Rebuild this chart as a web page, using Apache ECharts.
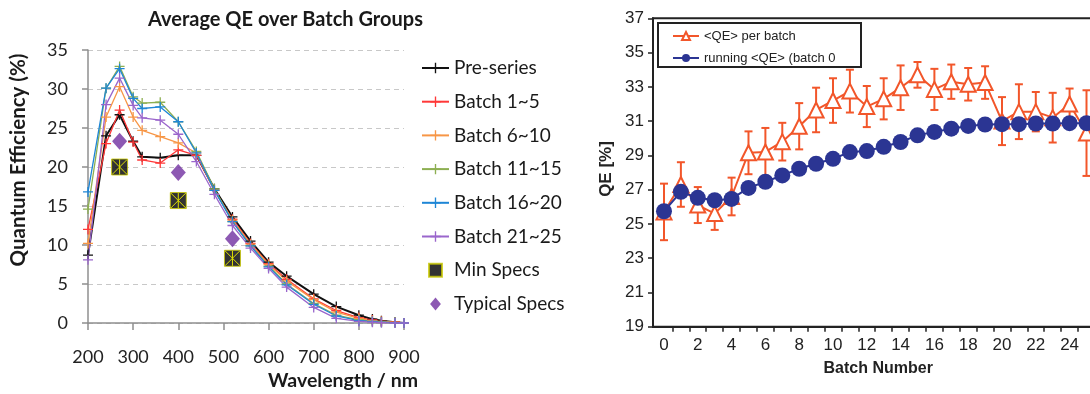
<!DOCTYPE html>
<html>
<head>
<meta charset="utf-8">
<script src="https://cdn.jsdelivr.net/npm/echarts@6/dist/echarts.min.js"></script>
<style>
  html, body { margin: 0; padding: 0; background: #fff; }
  #chart { width: 1090px; height: 394px; }
</style>
</head>
<body>
<div id="chart"></div>
<script>
// ---- Left panel: average QE versus wavelength for each batch group ----
const wavelengths = [200, 240, 270, 300, 320, 360, 400, 440, 480, 520, 560, 600, 640, 700, 750, 800, 830, 850, 880, 900];
const preSeries  = [8.7, 24.0, 26.7, 23.3, 21.3, 21.2, 21.5, 21.5, 17.2, 13.6, 10.5, 7.8, 6.0, 3.7, 2.1, 1.0, 0.5, 0.3, 0.1, 0];
const batch1to5  = [12.0, 23.0, 27.3, 23.2, 20.9, 20.5, 22.2, 21.5, 17.0, 13.3, 10.2, 7.6, 5.6, 3.1, 1.6, 0.7, 0.4, 0.2, 0.1, 0];
const batch6to10 = [10.2, 26.4, 30.3, 26.4, 24.7, 23.9, 23.1, 21.8, 17.0, 13.2, 10.1, 7.5, 5.4, 3.0, 1.4, 0.6, 0.3, 0.2, 0.1, 0];
const batch11to15 = [14.6, 30.1, 32.9, 29.0, 28.2, 28.3, 25.8, 22.0, 17.2, 13.0, 9.9, 7.3, 5.0, 2.5, 1.0, 0.4, 0.2, 0.1, 0.05, 0];
const batch16to20 = [16.8, 30.1, 32.6, 28.8, 27.5, 27.7, 25.8, 21.8, 17.0, 13.0, 9.9, 7.2, 4.9, 2.4, 0.9, 0.3, 0.2, 0.1, 0.05, 0];
const batch21to25 = [8.1, 28.0, 31.4, 27.9, 26.3, 26.0, 24.2, 20.7, 16.5, 12.5, 9.6, 7.0, 4.6, 2.0, 0.6, 0.2, 0.1, 0.05, 0, 0];
const specWavelengths = [270, 400, 520];
const minSpecs = [20.0, 15.7, 8.3];
const typicalSpecs = [23.3, 19.3, 10.8];

// ---- Right panel: QE per production batch ----
const batchNumbers = [0, 1, 2, 3, 4, 5, 6, 7, 8, 9, 10, 11, 12, 13, 14, 15, 16, 17, 18, 19, 20, 21, 22, 23, 24, 25];
const perBatchQE  = [25.7, 27.3, 26.1, 25.6, 26.6, 29.15, 29.2, 29.8, 30.7, 31.65, 32.2, 32.75, 31.85, 32.3, 32.95, 33.7, 32.85, 33.3, 33.15, 33.25, 31.0, 31.55, 31.55, 31.2, 32.0, 30.3];
const perBatchErr = [1.65, 1.3, 1.05, 0.95, 1.1, 1.25, 1.4, 1.1, 1.35, 1.3, 1.3, 1.25, 1.2, 1.2, 1.3, 0.75, 1.2, 1.0, 0.95, 0.95, 1.4, 1.6, 1.15, 1.45, 0.9, 2.5];
const runningQE   = [25.74, 26.87, 26.52, 26.38, 26.46, 27.1, 27.46, 27.83, 28.22, 28.51, 28.8, 29.19, 29.25, 29.5, 29.78, 30.17, 30.37, 30.56, 30.72, 30.8, 30.82, 30.82, 30.86, 30.86, 30.88, 30.88];
const batchLabelValues = [0, 2, 4, 6, 8, 10, 12, 14, 16, 18, 20, 22, 24, 26];
const batchTickValues = [0.5, 1.5, 2.5, 3.5, 4.5, 5.5, 6.5, 7.5, 8.5, 9.5, 10.5, 11.5, 12.5, 13.5, 14.5, 15.5, 16.5, 17.5, 18.5, 19.5, 20.5, 21.5, 22.5, 23.5, 24.5, 25.5];

const LEFT_FONT = 'Lato';
const RIGHT_FONT = 'Liberation Sans';
const ORANGE = '#F2562A';
const NAVY = '#2B3593';
const PLUS = 'path://M4.35,0H5.65V10H4.35Z M0,4.35H10V5.65H0Z';

function groupSeries(name, values, color, width) {
  return {
    type: 'line', name, xAxisIndex: 0, yAxisIndex: 0,
    data: wavelengths.map((w, i) => [w, values[i]]),
    symbol: PLUS, symbolSize: 10, showSymbol: true,
    lineStyle: { color, width }, itemStyle: { color },
    emphasis: { disabled: true }
  };
}

const chart = echarts.init(document.getElementById('chart'));

chart.setOption({
  animation: false,
  backgroundColor: '#fff',
  title: {
    text: 'Average QE over Batch Groups',
    left: 143, top: 5,
    textStyle: { fontFamily: LEFT_FONT, fontSize: 20, fontWeight: 'bold', color: '#1a1a1a' }
  },
  grid: [
    { left: 88, top: 50, width: 316, height: 273, containLabel: false, outerBoundsMode: 'none' },
    { left: 653, top: 18.3, width: 450.4, height: 308.4, containLabel: false, outerBoundsMode: 'none',
      show: true, borderColor: '#222', borderWidth: 2 }
  ],
  xAxis: [
    {
      type: 'value', gridIndex: 0, min: 200, max: 900, interval: 100,
      axisLine: { show: true, lineStyle: { color: '#8f8f8f', width: 1.5 } },
      axisTick: { show: true, length: 7, lineStyle: { color: '#8f8f8f', width: 1.5 } },
      axisLabel: { fontFamily: LEFT_FONT, fontSize: 18, color: '#222', margin: 25 },
      splitLine: { show: false }
    },
    {
      type: 'value', gridIndex: 1, min: -0.65, max: 26,
      axisLine: { show: true, onZero: false, lineStyle: { color: '#222', width: 2 } },
      axisTick: { show: true, length: 5, customValues: batchTickValues, lineStyle: { color: '#222', width: 1.5 } },
      axisLabel: { fontFamily: RIGHT_FONT, fontSize: 17, color: '#222', margin: 10, customValues: batchLabelValues },
      splitLine: { show: false },
      name: 'Batch Number', nameLocation: 'middle', nameGap: 34,
      nameTextStyle: { fontFamily: RIGHT_FONT, fontSize: 16, fontWeight: 'bold', color: '#222' }
    }
  ],
  yAxis: [
    {
      type: 'value', gridIndex: 0, min: 0, max: 35, interval: 5,
      axisLine: { show: true, lineStyle: { color: '#8f8f8f', width: 1.5 } },
      axisTick: { show: true, length: 6, lineStyle: { color: '#8f8f8f', width: 1.5 } },
      axisLabel: { fontFamily: LEFT_FONT, fontSize: 18, color: '#222', margin: 20 },
      splitLine: { show: true, lineStyle: { color: '#c8c8c8', width: 1, type: [5, 4] } }
    },
    {
      type: 'value', gridIndex: 1, min: 19, max: 37, interval: 2,
      axisLine: { show: true, onZero: false, lineStyle: { color: '#222', width: 2 } },
      axisTick: { show: true, length: 5, lineStyle: { color: '#222', width: 1.5 } },
      axisLabel: { fontFamily: RIGHT_FONT, fontSize: 17, color: '#222', margin: 9 },
      splitLine: { show: false },
      name: 'QE [%]', nameLocation: 'middle', nameGap: 38,
      nameTextStyle: { fontFamily: RIGHT_FONT, fontSize: 17, fontWeight: 'bold', color: '#222', padding: [0, 0, 0, 7] }
    }
  ],
  legend: [
    {
      data: ['Pre-series', 'Batch 1~5', 'Batch 6~10', 'Batch 11~15', 'Batch 16~20', 'Batch 21~25',
        { name: 'Min Specs', icon: 'path://M0,0H10V10H0Z' },
        { name: 'Typical Specs', icon: 'path://M5,0L10,6L5,12L0,6Z' }],
      orient: 'vertical', left: 421, top: 58, padding: 0,
      itemWidth: 27, itemHeight: 13, itemGap: 13.7,
      textStyle: { fontFamily: LEFT_FONT, fontSize: 19, color: '#1a1a1a', lineHeight: 20 }
    },
    {
      data: ['<QE> per batch', 'running <QE> (batch 0'],
      orient: 'vertical', left: 672, top: 28, padding: 0,
      itemWidth: 26, itemHeight: 10, itemGap: 6,
      textStyle: { fontFamily: RIGHT_FONT, fontSize: 13, color: '#222', lineHeight: 16 }
    }
  ],
  graphic: [
    { type: 'rect', shape: { x: 658, y: 23, width: 203, height: 44 }, style: { fill: 'none', stroke: '#222', lineWidth: 2 }, z: 10 },
    { type: 'text', x: 18.5, y: 160, rotation: Math.PI / 2,
      style: { text: 'Quantum Efficiency (%)', fontFamily: LEFT_FONT, fontSize: 20.5, fontWeight: 'bold', fill: '#1a1a1a', align: 'center', verticalAlign: 'middle' } },
    { type: 'text', x: 418, y: 381,
      style: { text: 'Wavelength / nm', fontFamily: LEFT_FONT, fontSize: 19.5, fontWeight: 'bold', fill: '#1a1a1a', align: 'right', verticalAlign: 'middle' } }
  ],
  series: [
    groupSeries('Pre-series', preSeries, '#111111', 2),
    groupSeries('Batch 1~5', batch1to5, '#FF3838', 1.3),
    groupSeries('Batch 6~10', batch6to10, '#F79646', 1.3),
    groupSeries('Batch 11~15', batch11to15, '#8DAF52', 1.3),
    groupSeries('Batch 16~20', batch16to20, '#1E86D6', 1.3),
    groupSeries('Batch 21~25', batch21to25, '#9A66CC', 1.3),
    {
      type: 'scatter', name: 'Min Specs', xAxisIndex: 0, yAxisIndex: 0,
      data: specWavelengths.map((w, i) => [w, minSpecs[i]]),
      symbol: 'rect', symbolSize: 16, z: 5,
      itemStyle: { color: '#000', borderColor: '#C8C800', borderWidth: 1 },
      emphasis: { disabled: true }
    },
    {
      // yellow cross pattern drawn inside each minimum-spec square
      type: 'custom', xAxisIndex: 0, yAxisIndex: 0, z: 6,
      data: specWavelengths.map((w, i) => [w, minSpecs[i]]),
      renderItem(params, api) {
        const c = api.coord([api.value(0), api.value(1)]);
        const h = 7.5;
        const style = { stroke: '#E0E000', lineWidth: 1 };
        return { type: 'group', children: [
          { type: 'line', shape: { x1: c[0] - h, y1: c[1] - h, x2: c[0] + h, y2: c[1] + h }, style },
          { type: 'line', shape: { x1: c[0] - h, y1: c[1] + h, x2: c[0] + h, y2: c[1] - h }, style },
          { type: 'line', shape: { x1: c[0], y1: c[1] - h, x2: c[0], y2: c[1] + h }, style }
        ] };
      }
    },
    {
      type: 'scatter', name: 'Typical Specs', xAxisIndex: 0, yAxisIndex: 0,
      data: specWavelengths.map((w, i) => [w, typicalSpecs[i]]),
      symbol: 'diamond', symbolSize: [15, 17], z: 5,
      itemStyle: { color: '#7030A0' },
      emphasis: { disabled: true }
    },
    {
      // ± error bars on the per-batch mean
      type: 'custom', xAxisIndex: 1, yAxisIndex: 1, z: 2,
      data: batchNumbers.map((b, i) => [b, perBatchQE[i] - perBatchErr[i], perBatchQE[i] + perBatchErr[i]]),
      encode: { x: 0, y: [1, 2] },
      renderItem(params, api) {
        const lo = api.coord([api.value(0), api.value(1)]);
        const hi = api.coord([api.value(0), api.value(2)]);
        const cap = 4;
        const style = { stroke: ORANGE, lineWidth: 2 };
        return { type: 'group', children: [
          { type: 'line', shape: { x1: lo[0], y1: lo[1], x2: hi[0], y2: hi[1] }, style },
          { type: 'line', shape: { x1: lo[0] - cap, y1: lo[1], x2: lo[0] + cap, y2: lo[1] }, style },
          { type: 'line', shape: { x1: hi[0] - cap, y1: hi[1], x2: hi[0] + cap, y2: hi[1] }, style }
        ] };
      }
    },
    {
      type: 'line', name: '<QE> per batch', xAxisIndex: 1, yAxisIndex: 1, z: 3,
      data: batchNumbers.map((b, i) => [b, perBatchQE[i]]),
      symbol: 'emptyTriangle', symbolSize: 15, showSymbol: true,
      lineStyle: { color: ORANGE, width: 2 },
      itemStyle: { color: ORANGE, borderColor: ORANGE, borderWidth: 2 },
      emphasis: { disabled: true }
    },
    {
      type: 'line', name: 'running <QE> (batch 0', xAxisIndex: 1, yAxisIndex: 1, z: 4,
      data: batchNumbers.map((b, i) => [b, runningQE[i]]),
      symbol: 'circle', symbolSize: 16, showSymbol: true,
      lineStyle: { color: NAVY, width: 2 },
      itemStyle: { color: NAVY },
      emphasis: { disabled: true }
    }
  ]
});
</script>
</body>
</html>
